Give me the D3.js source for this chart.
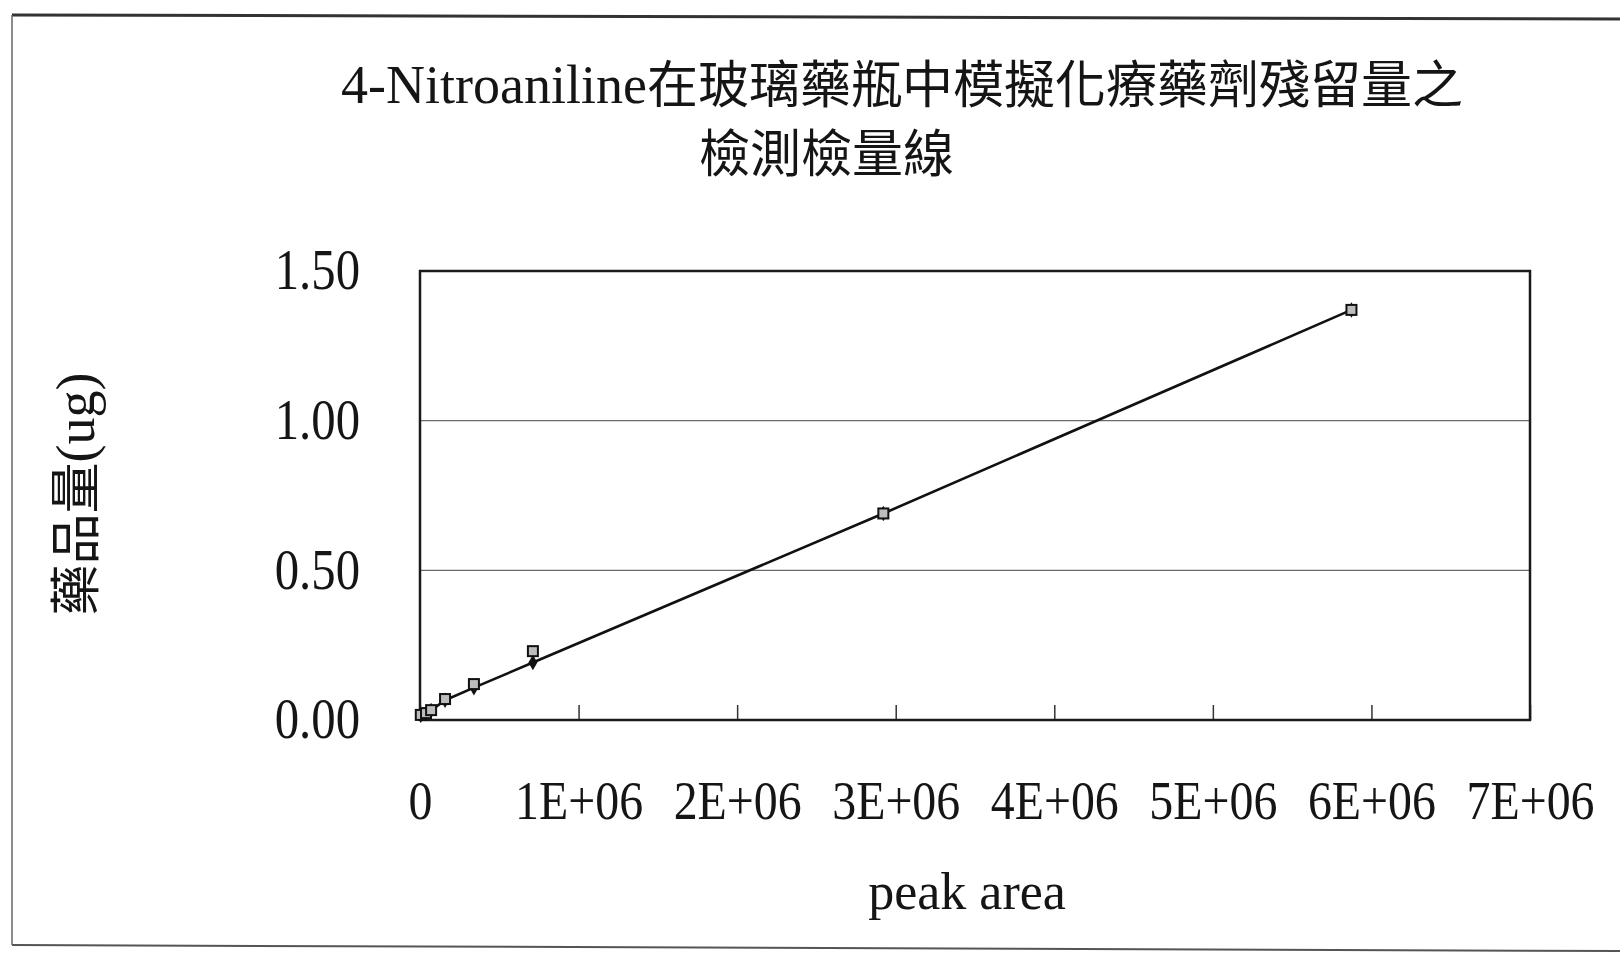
<!DOCTYPE html>
<html>
<head>
<meta charset="utf-8">
<script src="https://cdn.jsdelivr.net/npm/d3@7"></script>
<style>
  html, body { margin: 0; padding: 0; background: #fff; }
  svg { display: block; }
</style>
</head>
<body>
<svg id="chart" width="1620" height="969"></svg>
<script>
// Calibration data: 4-Nitroaniline peak area vs. amount (ug)
const peakArea   = [5000, 38000, 70000, 158000, 340000, 712000, 2922000, 5874000];
const measuredUg = [0.017, 0.023, 0.033, 0.070, 0.120, 0.230, 0.690, 1.370];
const fittedUg   = [0.016, 0.023, 0.032, 0.066, 0.108, 0.192, 0.690, 1.370];

const xTicks = [0, 1e6, 2e6, 3e6, 4e6, 5e6, 6e6, 7e6];
const xTickLabels = ["0", "1E+06", "2E+06", "3E+06", "4E+06", "5E+06", "6E+06", "7E+06"];
const yTicks = [0, 0.5, 1.0, 1.5];
const yGrid = [0.5, 1.0];

const titleLatin = "4-Nitroaniline";
const titleCjk1 = "在玻璃藥瓶中模擬化療藥劑殘留量之";
const titleCjk2 = "檢測檢量線";
const yTitleCjk = "藥品量";
const yTitleUnit = "(ug)";
const xTitle = "peak area";

const SERIF = "'Liberation Serif', 'DejaVu Serif', serif";
const CJK = "'Noto Sans CJK TC', 'Noto Sans CJK SC', sans-serif";
const INK = "#151515";

const svg = d3.select("#chart");

// page frame
const frame = svg.append("g").attr("fill", "none");
frame.append("line").attr("x1", 12).attr("y1", 15).attr("x2", 1620).attr("y2", 19)
  .attr("stroke", "#333").attr("stroke-width", 3);
frame.append("line").attr("x1", 12).attr("y1", 945).attr("x2", 1620).attr("y2", 951)
  .attr("stroke", "#555").attr("stroke-width", 2);
frame.append("line").attr("x1", 12).attr("y1", 15).attr("x2", 12).attr("y2", 945)
  .attr("stroke", "#666").attr("stroke-width", 1.5);

// plot area
const plot = { left: 420, right: 1530, top: 271, bottom: 720 };

const x = d3.scaleLinear().domain([0, 7e6]).range([plot.left, plot.right]);
const y = d3.scaleLinear().domain([0, 1.5]).range([plot.bottom, plot.top]);

// squeeze text horizontally to a narrow serif look
function condense(sel, k) {
  sel.each(function () {
    const w = this.getComputedTextLength();
    d3.select(this).attr("textLength", w * k).attr("lengthAdjust", "spacingAndGlyphs");
  });
}

// gridlines
svg.append("g").selectAll("line").data(yGrid).join("line")
  .attr("x1", plot.left).attr("x2", plot.right)
  .attr("y1", d => y(d)).attr("y2", d => y(d))
  .attr("stroke", "#6a6a6a").attr("stroke-width", 1.4);

// x axis (inward ticks)
const xAxis = svg.append("g")
  .attr("transform", `translate(0,${plot.bottom})`)
  .call(d3.axisBottom(x).tickValues(xTicks)
    .tickFormat((d, i) => xTickLabels[i])
    .tickSize(-15).tickSizeOuter(0).tickPadding(60));
xAxis.select(".domain").remove();
xAxis.selectAll(".tick line").attr("stroke", "#333").attr("stroke-width", 1.5);
xAxis.selectAll(".tick text")
  .attr("font-family", SERIF).attr("font-size", 55).attr("fill", INK)
  .call(condense, 0.87);

// y axis
const yAxis = svg.append("g")
  .attr("transform", `translate(${plot.left},0)`)
  .call(d3.axisLeft(y).tickValues(yTicks).tickFormat(d3.format(".2f"))
    .tickSize(0).tickPadding(60));
yAxis.select(".domain").remove();
yAxis.selectAll(".tick text")
  .attr("font-family", SERIF).attr("font-size", 56).attr("fill", INK)
  .call(condense, 0.87);

// plot border
svg.append("rect")
  .attr("x", plot.left).attr("y", plot.top)
  .attr("width", plot.right - plot.left).attr("height", plot.bottom - plot.top)
  .attr("fill", "none").attr("stroke", "#1a1a1a").attr("stroke-width", 2.5);

// fitted line with diamond markers
const pts = peakArea.map((a, i) => ({ a, m: measuredUg[i], f: fittedUg[i] }));
const line = d3.line().x(d => x(d.a)).y(d => y(d.f));
svg.append("path").datum(pts).attr("d", line)
  .attr("fill", "none").attr("stroke", "#111").attr("stroke-width", 2.6);

svg.append("g").selectAll("path").data(pts).join("path")
  .attr("d", d3.symbol(d3.symbolDiamond, 70))
  .attr("transform", d => `translate(${x(d.a)},${y(d.f)})`)
  .attr("fill", "#111");

// measured points as square markers
svg.append("g").selectAll("rect").data(pts).join("rect")
  .attr("x", d => x(d.a) - 5).attr("y", d => y(d.m) - 5)
  .attr("width", 10).attr("height", 10)
  .attr("fill", "#bdbdbd").attr("stroke", "#111").attr("stroke-width", 2);

// title
const t1 = svg.append("text").attr("x", 341).attr("y", 103).attr("fill", INK);
t1.append("tspan").attr("font-family", SERIF).attr("font-size", 54).text(titleLatin);
t1.append("tspan").attr("font-family", CJK).attr("font-size", 51).text(titleCjk1);
svg.append("text").attr("x", 699).attr("y", 172).attr("fill", INK)
  .attr("font-family", CJK).attr("font-size", 51).text(titleCjk2);

// axis titles
const yt = svg.append("text")
  .attr("transform", "translate(94,494) rotate(-90)")
  .attr("text-anchor", "middle").attr("fill", INK);
yt.append("tspan").attr("font-family", CJK).attr("font-size", 51).text(yTitleCjk);
yt.append("tspan").attr("font-family", SERIF).attr("font-size", 54).text(yTitleUnit);

svg.append("text").attr("x", 967).attr("y", 909)
  .attr("text-anchor", "middle").attr("fill", INK)
  .attr("font-family", SERIF).attr("font-size", 52).text(xTitle);
</script>
</body>
</html>
